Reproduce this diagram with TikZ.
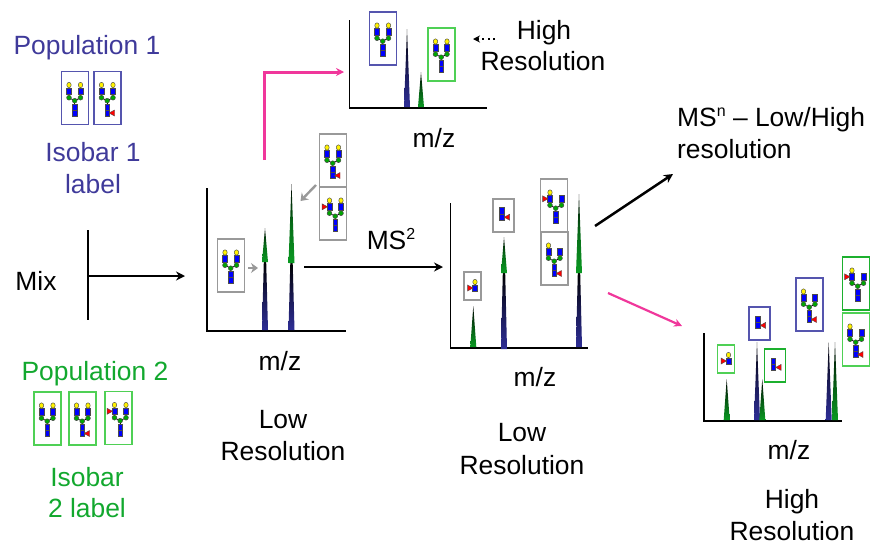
\documentclass[tikz,border=0pt]{standalone}
\usepackage{fontspec}
\setmainfont{Liberation Sans}
\usetikzlibrary{arrows.meta}
\definecolor{popblue}{HTML}{3F3A9A}
\definecolor{popgreen}{HTML}{12A82E}
\definecolor{boxblue}{HTML}{5555AE}
\definecolor{boxgreen}{HTML}{4FD055}
\definecolor{boxdark}{HTML}{1CB02E}
\definecolor{boxgray}{HTML}{999999}
\definecolor{hotpink}{HTML}{F0379B}
\definecolor{pkblue}{HTML}{2E2E96}
\definecolor{pkgreen}{HTML}{0A9A22}
\newcommand{\gYel}[2]{\filldraw[draw=black!70,line width=.5pt,fill=yellow] (#1,#2) ellipse [x radius=2.2,y radius=2.7];}
\newcommand{\gGrn}[2]{\filldraw[draw=black!70,line width=.5pt,fill=green!65!black] (#1,#2) circle [radius=2.4];}
\newcommand{\gBlu}[2]{\filldraw[draw=black!70,line width=.5pt,fill=blue] (#1-2.4,#2-3.1) rectangle (#1+2.4,#2+3.1);}
\newcommand{\gFucR}[2]{\filldraw[draw=black!70,line width=.4pt,fill=red] (#1-3,#2) -- (#1+2.4,#2-3) -- (#1+2.4,#2+3) -- cycle;}
\newcommand{\gFucL}[2]{\filldraw[draw=black!70,line width=.4pt,fill=red] (#1+3,#2) -- (#1-2.4,#2-3) -- (#1-2.4,#2+3) -- cycle;}
\newcommand{\gCore}{%
  \draw[line width=.7pt] (-6,-6.7) -- (-6,-.3) -- (-.3,2.7) -- (5.5,-.3) -- (5.5,-6.7);
  \draw[line width=.7pt] (-.3,2.7) -- (-.3,15);
  \gBlu{-6}{-6.7}\gBlu{5.5}{-6.7}\gGrn{-6}{-.3}\gGrn{5.5}{-.3}\gGrn{-.3}{2.7}\gBlu{-.3}{9}\gBlu{-.3}{15}}
\newcommand{\supr}[1]{\raisebox{9.5pt}{\fontsize{16}{16}\selectfont #1}}
\tikzset{
  x=1pt,y=-1pt,
  every node/.style={font=\fontsize{26.4}{30}\selectfont,inner sep=0pt,text=black},
  txt/.style={anchor=base},
  txtl/.style={anchor=base west},
  pbox/.style={draw=#1,line width=1.6pt,fill=none,minimum width=27pt,minimum height=53pt},
  sbox/.style={draw=#1,line width=1.6pt,fill=none},
  axisline/.style={line width=1.5pt,black},
  mainarrow/.style={line width=2.5pt,black,-{Stealth[length=9pt,width=9pt]}},
  pinkarrow/.style={line width=#1,hotpink,-{Stealth[length=8pt,width=8pt]}},
  grayarrow/.style={line width=2.4pt,boxgray,-{Stealth[length=7pt,width=10pt]}},
  glyA/.pic={\gCore\gYel{-6}{-13}\gYel{5.5}{-13}},
  glyB/.pic={\gCore\gYel{-6}{-13}\gYel{5.5}{-13}\gFucR{4.6}{15}},
  glyC/.pic={\gCore\gYel{-6}{-13}\gYel{5.5}{-13}\gFucL{-11}{-6.7}},
  glyD/.pic={\gCore\gYel{-6}{-13}\gFucL{-11}{-6.7}},
  glyE/.pic={\gCore\gYel{-6}{-13}\gFucR{4.6}{15}},
  glyF/.pic={\draw[line width=.7pt] (-1.7,-4.7) -- (-1.7,1.7); \gBlu{-1.7}{-4.7}\gBlu{-1.7}{1.7}\gFucR{3.7}{1.7}},
  glyG/.pic={\draw[line width=.7pt] (2.5,-4) -- (2.5,2); \gYel{2.5}{-4}\gBlu{2.5}{2}\gFucL{-2.5}{2}},
}
% single-colour peak: x, base, top, colour
\newcommand{\peakS}[4]{\shade[top color=black,bottom color=#4,middle color=black!45!#4] (#1-3,#2) -- (#1,#3) -- (#1+3,#2) -- cycle;}
% two-colour peak: x, base, join, top
\newcommand{\peakD}[4]{%
  \shade[top color=black,bottom color=pkblue,middle color=black!45!pkblue] (#1-3,#2) -- (#1-1.2,#3) -- (#1+1.2,#3) -- (#1+3,#2) -- cycle;
  \shade[top color=black,bottom color=pkgreen,middle color=black!30!pkgreen] (#1-3,#3) -- (#1,#4) -- (#1+3,#3) -- cycle;}
\begin{document}
\begin{tikzpicture}
\useasboundingbox (0,0) rectangle (871,544);

% left column
\node[txt,text=popblue] (pop1) at (87,54) {Population 1};
\node[txt,text=popblue] (iso1a) at (93,161) {Isobar 1};
\node[txt,text=popblue] (iso1b) at (93,193) {label};
\node[txt] (mix) at (36,290) {Mix};
\node[txt,text=popgreen] (pop2) at (95,380) {Population 2};
\node[txt,text=popgreen] (iso2a) at (87,486) {Isobar};
\node[txt,text=popgreen] (iso2b) at (87,517) {2 label};
\node[pbox=boxblue] (b1) at (75,98) {};
\node[pbox=boxblue] (b2) at (107.5,98) {};
\pic at (75,98) {glyA};
\pic at (107.5,98) {glyB};
\node[pbox=boxgreen] (b3) at (47.5,418.5) {};
\node[pbox=boxgreen] (b4) at (82.5,418.5) {};
\node[pbox=boxgreen] (b5) at (118.5,418) {};
\pic at (47.5,418.5) {glyA};
\pic at (82.5,418.5) {glyB};
\pic at (120.5,418) {glyC};

% mix connector
\coordinate (mixtop) at (88,230);
\coordinate (mixbot) at (88,320);
\coordinate (mixmid) at (88,276);
\coordinate (mixend) at (185,276);
\draw[line width=2.5pt] (mixtop) -- (mixbot);
\draw[mainarrow] (mixmid) -- (mixend);

% chart 1
\coordinate (c1o) at (207,331);
\coordinate (c1t) at (207,188);
\coordinate (c1r) at (346,331);
\draw[axisline] (c1t) -- (c1o) -- (c1r);
\peakD{265}{330}{262}{228}
\peakD{291.5}{330}{263}{184}
\node[pbox=boxgray] (c1a) at (231,265.5) {};
\pic at (231,265.5) {glyA};
\node[pbox=boxgray] (c1b) at (333,160.5) {};
\node[pbox=boxgray] (c1c) at (333,213.5) {};
\pic at (333,160.5) {glyB};
\pic at (335.5,213.5) {glyC};
\coordinate (ga1) at (248,268);
\coordinate (ga2) at (258,268);
\coordinate (gb1) at (316,185);
\coordinate (gb2) at (300.5,201);
\draw[grayarrow] (ga1) -- (ga2);
\draw[grayarrow] (gb1) -- (gb2);
\node[txt] (mz1) at (280,370) {m/z};
\node[txt] (lr1a) at (283,428) {Low};
\node[txt] (lr1b) at (283,460) {Resolution};

% pink route to the top chart
\coordinate (pk1) at (264,160);
\coordinate (pk2) at (344,72);
\draw[pinkarrow=3pt] (pk1) -- (pk1 |- pk2) -- (pk2);

% top chart
\coordinate (c0o) at (349.5,108);
\coordinate (c0t) at (349.5,20);
\coordinate (c0r) at (487,108);
\draw[axisline] (c0t) -- (c0o) -- (c0r);
\peakS{407}{107}{29}{pkblue}
\peakS{421}{107}{72}{pkgreen}
\node[pbox=boxblue] (c0a) at (383,38.5) {};
\node[pbox=boxgreen] (c0b) at (441.5,54.5) {};
\pic at (383,38.5) {glyA};
\pic at (441.5,54.5) {glyA};
\coordinate (da1) at (495,39);
\coordinate (da2) at (473,39);
\draw[line width=2pt,dash pattern=on 2pt off 3.5pt,-{Stealth[length=7pt,width=7pt]}] (da1) -- (da2);
\node[txt] (hr0a) at (544,39) {High};
\node[txt] (hr0b) at (543,70) {Resolution};
\node[txt] (mz0) at (434,147) {m/z};

% MS2 arrow
\coordinate (ms1) at (304,267);
\coordinate (ms2) at (443,267);
\draw[mainarrow] (ms1) -- (ms2);
\node[txt] (ms2lab) at (391,249) {MS\supr{2}};

% chart 3
\coordinate (c3o) at (450.5,348);
\coordinate (c3t) at (450.5,203);
\coordinate (c3r) at (588,348);
\draw[axisline] (c3t) -- (c3o) -- (c3r);
\peakS{473.3}{347}{306}{pkgreen}
\peakD{504}{349}{273}{237}
\peakD{579}{347}{273}{194}
\node[sbox=boxgray,minimum width=17pt,minimum height=28pt] (c3a) at (472.5,286) {};
\pic at (472.5,286) {glyG};
\node[sbox=boxgray,minimum width=21pt,minimum height=33pt] (c3b) at (503.5,215.5) {};
\pic at (503.5,215.5) {glyF};
\node[pbox=boxgray] (c3c) at (554,205.5) {};
\node[pbox=boxgray] (c3d) at (554.5,258.5) {};
\pic at (556,205.5) {glyD};
\pic at (554.5,258.5) {glyE};
\node[txt] (mz3) at (535,386) {m/z};
\node[txt] (lr3a) at (522,441) {Low};
\node[txt] (lr3b) at (522,474) {Resolution};

% exits from chart 3
\coordinate (ex1) at (595,226);
\coordinate (ex2) at (673,174);
\draw[mainarrow] (ex1) -- (ex2);
\coordinate (ex3) at (608,293);
\coordinate (ex4) at (682,326);
\draw[pinkarrow=2.2pt] (ex3) -- (ex4);
\node[txtl] (msna) at (677,126) {MS\supr{n} – Low/High};
\node[txtl] (msnb) at (677,158) {resolution};

% chart 4
\coordinate (c4o) at (704,421);
\coordinate (c4t) at (704,333);
\coordinate (c4r) at (842,421);
\draw[axisline] (c4t) -- (c4o) -- (c4r);
\peakS{726.7}{420}{379}{pkgreen}
\peakS{757}{420}{342}{pkblue}
\peakS{762.3}{420}{379}{pkgreen}
\peakS{828.7}{420}{342}{pkblue}
\peakS{835}{420}{342}{pkgreen}
\node[sbox=boxgreen,minimum width=17pt,minimum height=28pt] (c4a) at (726,359) {};
\pic at (726,359) {glyG};
\node[sbox=boxblue,minimum width=21pt,minimum height=33pt] (c4b) at (759.5,323.7) {};
\pic at (759.5,323.7) {glyF};
\node[sbox=boxdark,minimum width=21pt,minimum height=33pt] (c4c) at (775,365.7) {};
\pic at (775,365.7) {glyF};
\node[pbox=boxblue] (c4d) at (809.5,304.5) {};
\pic at (809.5,304.5) {glyE};
\node[pbox=boxdark] (c4e) at (856,283.5) {};
\pic at (858,283.5) {glyD};
\node[pbox=boxgreen] (c4f) at (856,339.5) {};
\pic at (856,339.5) {glyE};
\node[txt] (mz4) at (789,459) {m/z};
\node[txt] (hr4a) at (792,508) {High};
\node[txt] (hr4b) at (792,540) {Resolution};
\end{tikzpicture}
\end{document}
